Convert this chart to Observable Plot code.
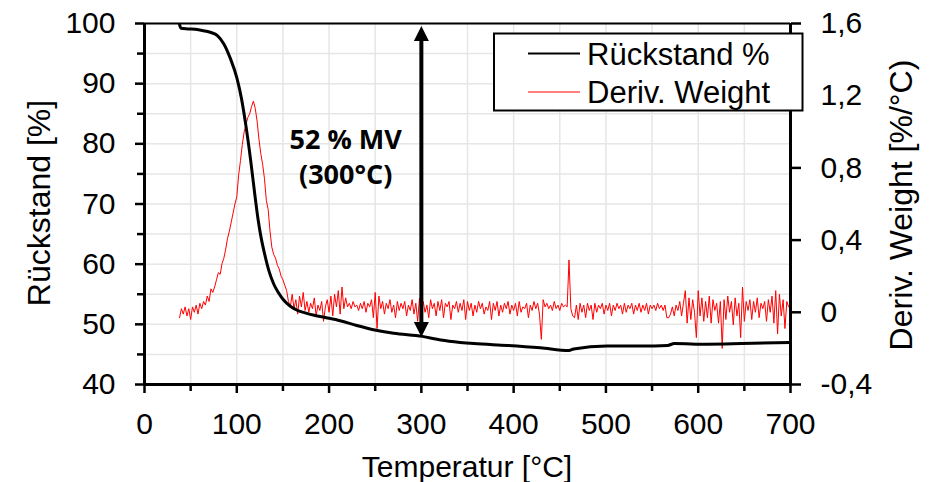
<!DOCTYPE html>
<html><head><meta charset="utf-8">
<script src="https://cdn.jsdelivr.net/npm/d3@7"></script>
<script src="https://cdn.jsdelivr.net/npm/@observablehq/plot@0.6"></script>
<style>html,body{margin:0;padding:0;background:#fff}</style>
</head><body><div id="chart"></div>
<script>
// ---- data ----
const seriesNames = ["Rückstand %", "Deriv. Weight"];
const residueT = [38, 39.7, 47, 57, 64, 72, 79, 86, 93, 100, 105, 110, 115, 120, 123, 126, 130, 135, 140, 145, 151, 158, 166, 174, 184, 197, 212, 230, 248, 270, 301, 321, 342, 357, 393, 429, 460, 465, 501, 538, 567, 574, 610, 647, 700];
const residueV = [99.8, 99.2, 99.1, 99.0, 98.8, 98.5, 98.0, 96.6, 94.2, 91.0, 87.6, 82.9, 77.3, 71.0, 67.5, 64.7, 61.8, 58.8, 56.7, 55.3, 54.0, 53.0, 52.3, 51.9, 51.5, 51.1, 50.6, 49.8, 49.1, 48.5, 48.0, 47.4, 47.0, 46.8, 46.5, 46.1, 45.65, 45.9, 46.4, 46.4, 46.5, 46.8, 46.7, 46.8, 47.0];
// derivative sampled every 2 °C from 38 °C to 700 °C
const derivStartT = 38, derivEndT = 700, derivStepT = 2;
const derivV = [
 -0.03, 0.02, -0.01, 0.03, -0.02, 0.02, -0.04, 0.03, 0.00, 0.04,
 -0.01, 0.05, 0.02, 0.06, 0.04, 0.09, 0.06, 0.13, 0.11, 0.14,
 0.18, 0.22, 0.21, 0.27, 0.30, 0.35, 0.41, 0.45, 0.50, 0.55,
 0.60, 0.64, 0.76, 0.84, 0.93, 1.00, 1.04, 1.08, 1.10, 1.14,
 1.17, 1.13, 1.06, 0.96, 0.88, 0.82, 0.74, 0.62, 0.57, 0.45,
 0.36, 0.32, 0.30, 0.26, 0.24, 0.20, 0.18, 0.15, 0.12, 0.06,
 0.03, 0.10, 0.02, 0.07, -0.01, 0.09, 0.03, 0.11, 0.01, 0.06,
 0.00, 0.05, 0.02, 0.08, -0.02, 0.04, 0.01, 0.06, -0.05, 0.03,
 0.07, 0.00, 0.09, -0.02, 0.10, 0.03, 0.12, -0.01, 0.14, 0.02,
 0.08, 0.03, 0.05, 0.02, 0.06, 0.03, 0.04, 0.01, 0.05, 0.02,
 0.06, 0.00, 0.05, 0.03, 0.07, -0.03, 0.11, -0.09, 0.09, 0.02,
 0.06, -0.01, 0.05, 0.02, 0.07, 0.00, 0.04, -0.03, 0.06, 0.01,
 0.05, 0.02, 0.06, -0.02, 0.04, 0.01, 0.07, -0.01, 0.05, -0.05,
 0.08, 0.01, 0.06, 0.00, 0.04, -0.03, 0.07, 0.02, 0.05, -0.02,
 0.06, 0.01, 0.07, -0.03, 0.05, 0.03, 0.06, -0.04, 0.04, 0.02,
 0.06, 0.00, 0.05, 0.01, 0.07, -0.04, 0.06, 0.01, 0.05, -0.02,
 0.04, 0.00, 0.06, 0.02, 0.05, -0.01, 0.03, 0.01, 0.06, -0.04,
 0.05, 0.01, 0.06, -0.02, 0.04, 0.00, 0.05, 0.02, 0.06, -0.01,
 0.04, 0.01, 0.05, -0.02, 0.06, 0.00, 0.03, 0.02, 0.05, -0.03,
 0.04, 0.01, 0.06, 0.02, 0.05, -0.01, -0.15, 0.07, 0.03, 0.05,
 0.02, 0.04, 0.01, 0.06, 0.02, 0.04, 0.01, 0.05, 0.03, 0.04,
 0.03, 0.29, 0.02, -0.02, -0.03, 0.04, -0.04, 0.05, 0.00, 0.04,
 -0.03, 0.05, 0.01, 0.04, -0.04, 0.05, 0.00, 0.04, 0.02, 0.05,
 -0.01, 0.04, 0.01, 0.05, -0.02, 0.04, 0.01, 0.05, 0.02, 0.04,
 -0.01, 0.05, 0.00, 0.04, 0.02, 0.05, -0.01, 0.04, 0.01, 0.05,
 0.00, 0.04, 0.01, 0.05, -0.01, 0.04, 0.02, 0.04, 0.01, 0.05,
 0.02, 0.04, 0.01, 0.04, -0.03, -0.03, -0.01, 0.03, -0.02, 0.04,
 0.01, 0.06, -0.02, 0.05, 0.12, -0.06, 0.08, -0.04, 0.07, 0.00,
 -0.14, 0.12, -0.02, 0.08, -0.05, 0.06, -0.03, 0.09, -0.06, 0.07,
 0.01, 0.05, -0.06, 0.06, -0.20, 0.07, -0.04, 0.09, 0.00, 0.06,
 -0.07, 0.08, -0.02, 0.05, -0.14, 0.14, -0.05, 0.06, 0.01, 0.07,
 -0.04, 0.06, 0.00, 0.08, -0.03, 0.05, 0.02, 0.06, -0.05, 0.07,
 0.00, 0.09, -0.06, 0.12, -0.12, 0.10, -0.02, 0.07, -0.09, 0.06, 0.03, 0.04
];
const xTicks = [0, 100, 200, 300, 400, 500, 600, 700];
const xMinorTicks = [50, 150, 250, 350, 450, 550, 650];
const yTicks = [40, 50, 60, 70, 80, 90, 100];
const yMinorTicks = [45, 55, 65, 75, 85, 95];
const y2Ticks = [-0.4, 0, 0.4, 0.8, 1.2, 1.6];
const y2Labels = ["-0,4", "0", "0,4", "0,8", "1,2", "1,6"];
const xGrid = [0, 50, 100, 150, 200, 250, 300, 350, 400, 450, 500, 550, 600, 650, 700];
const yGrid = [40, 45, 50, 55, 60, 65, 70, 75, 80, 85, 90, 95, 100];
const xTitle = "Temperatur [°C]";
const yTitle = "Rückstand [%]";
const y2Title = "Deriv. Weight [%/°C)";
const noteLines = ["52 % MV", "(300°C)"];
const noteAt = {t: 218, v: 73.3};
const arrowSpan = {t: 300, top: 99.6, bottom: 47.9};

// ---- build ----
const derivT = d3.range(derivStartT, derivEndT + 1, derivStepT);
const y2 = d3.scaleLinear([-0.4, 1.6], [40, 100]);
const residue = residueT.map((t, i) => ({t, v: residueV[i]}));
const deriv = derivV.map((d, i) => ({t: derivT[i], v: y2(d)}));
const y2Label = v => { const i = y2Ticks.findIndex(d => Math.abs(y2(d) - v) < 1e-6); return i < 0 ? "" : y2Labels[i]; };

const headUp = {draw(ctx) { ctx.moveTo(0, 0); ctx.lineTo(7.5, 15); ctx.lineTo(-7.5, 15); ctx.closePath(); }};
const headDown = {draw(ctx) { ctx.moveTo(0, 0); ctx.lineTo(7.5, -15); ctx.lineTo(-7.5, -15); ctx.closePath(); }};

const grid = {stroke: "#e6e6e6", strokeOpacity: 1, strokeWidth: 1.5};
const W = 938, H = 482, ML = 144, MR = 148, MT = 23, MB = 98;

const chart = Plot.plot({
  width: W, height: H,
  marginLeft: ML, marginRight: MR, marginTop: MT, marginBottom: MB,
  x: {domain: [0, 700], axis: null},
  y: {domain: [40, 100], axis: null},
  style: {fontFamily: "'Liberation Sans', Arial, sans-serif", fontSize: "30px", color: "black", background: "white", overflow: "visible"},
  marks: [
    Plot.gridX(xGrid, grid),
    Plot.gridY(yGrid, grid),
    Plot.line(deriv, {x: "t", y: "v", stroke: "#ff0000", strokeWidth: 1}),
    Plot.line(residue, {x: "t", y: "v", stroke: "black", strokeWidth: 3, curve: "monotone-x"}),
    Plot.ruleX([arrowSpan], {x: "t", y1: d => d.top - 2, y2: d => d.bottom + 2, stroke: "black", strokeWidth: 4}),
    Plot.dot([arrowSpan], {x: "t", y: "top", symbol: headUp, fill: "black", stroke: null, r: 5}),
    Plot.dot([arrowSpan], {x: "t", y: "bottom", symbol: headDown, fill: "black", stroke: null, r: 5}),
    Plot.text([noteAt], {x: "t", y: "v", text: () => noteLines.join("\n"), lineAnchor: "bottom", lineHeight: 1.32,
      fontFamily: "'Open Sans', sans-serif", fontWeight: "bold", fontSize: 27, fill: "black"}),
    Plot.ruleY([100], {stroke: "black", strokeWidth: 2}),
    Plot.ruleY([40], {stroke: "black", strokeWidth: 3}),
    Plot.ruleX([0], {stroke: "black", strokeWidth: 3}),
    Plot.ruleX([700], {stroke: "black", strokeWidth: 3}),
    Plot.axisX(xTicks, {tickSize: 9, tickPadding: 19, strokeWidth: 2.5, label: null}),
    Plot.axisX(xMinorTicks, {tickSize: 7, text: null, strokeWidth: 2.5, label: null}),
    Plot.axisY(yTicks, {tickSize: 9, tickPadding: 20, strokeWidth: 2.5, label: null}),
    Plot.axisY(yMinorTicks, {tickSize: 7, text: null, strokeWidth: 2.5, label: null}),
    Plot.axisY(y2Ticks.map(y2), {anchor: "right", tickSize: 10, tickPadding: 20, strokeWidth: 2.5, tickFormat: y2Label, label: null})
  ]
});

document.getElementById("chart").appendChild(chart);
const svg = d3.select(chart);
const font = "'Liberation Sans', Arial, sans-serif";
svg.append("text").attr("x", 467).attr("y", 477).attr("text-anchor", "middle")
  .attr("font-family", font).attr("font-size", 30).attr("fill", "black").text(xTitle);
svg.append("text").attr("transform", "translate(50,203) rotate(-90)").attr("text-anchor", "middle")
  .attr("font-family", font).attr("font-size", 32).attr("fill", "black").text(yTitle);
svg.append("text").attr("transform", "translate(912,205) rotate(-90)").attr("text-anchor", "middle")
  .attr("font-family", font).attr("font-size", 32).attr("fill", "black").text(y2Title);

// legend
const lg = svg.append("g");
lg.append("rect").attr("x", 494).attr("y", 33.5).attr("width", 308.5).attr("height", 77)
  .attr("fill", "white").attr("stroke", "black").attr("stroke-width", 2);
const legendStyles = [{stroke: "black", w: 2, y: 53.5, base: 65}, {stroke: "#ff0000", w: 1, y: 92, base: 102.7}];
seriesNames.forEach((name, i) => {
  const s = legendStyles[i];
  lg.append("line").attr("x1", 528).attr("x2", 580).attr("y1", s.y).attr("y2", s.y)
    .attr("stroke", s.stroke).attr("stroke-width", s.w);
  lg.append("text").attr("x", 587).attr("y", s.base).attr("text-anchor", "start").attr("font-family", font).attr("font-size", 31)
    .attr("fill", "black").text(name);
});
</script>
</body></html>
